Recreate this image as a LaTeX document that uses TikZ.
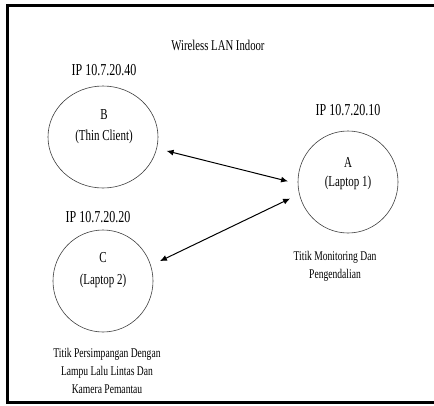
\documentclass[tikz,border=0pt]{standalone}
\usepackage{fontspec}
\setmainfont{Liberation Serif}[FakeStretch=0.72]
\usetikzlibrary{shapes.geometric,arrows.meta}

\begin{document}
\begin{tikzpicture}[x=1pt,y=1pt,
  station/.style={draw=black!75, line width=0.6pt, ellipse, inner sep=0pt},
  ttl/.style={font=\fontsize{14.9}{17}\selectfont, inner sep=0pt},
  ip/.style={font=\fontsize{16.7}{19}\selectfont, inner sep=0pt},
  inlabel/.style={font=\fontsize{15.2}{17}\selectfont, inner sep=0pt},
  note/.style={font=\fontsize{13.3}{18}\selectfont, align=center, inner sep=0pt},
  link/.style={line width=1pt,
    {Latex[length=7pt,width=6pt]}-{Latex[length=7pt,width=6pt]},
    shorten <=10pt, shorten >=10pt}]
  \path[use as bounding box, fill=white] (0,0) rectangle (434,-405);

  % outer frame, open to the right
  \draw[line width=2.2pt] (434,-5.5) -- (7.5,-5.5) -- (7.5,-402.5) -- (434,-402.5);

  \node[ttl] (title) at (218,-45) {Wireless LAN Indoor};

  % stations
  \node[station, minimum width=110pt, minimum height=102pt] (B) at (103,-137) {};
  \node[station, minimum width=100pt, minimum height=102pt] (A) at (348,-182) {};
  \node[station, minimum width=100pt, minimum height=102pt] (C) at (103,-281) {};

  \node[ip] (ipB) at (104,-70) {IP 10.7.20.40};
  \node[ip] (ipA) at (348,-110) {IP 10.7.20.10};
  \node[ip] (ipC) at (98,-217) {IP 10.7.20.20};

  \node[inlabel] (nB) at (104,-115) {B};
  \node[inlabel] (dB) at (104,-137) {(Thin Client)};
  \node[inlabel] (nA) at (348,-162) {A};
  \node[inlabel] (dA) at (348,-183) {(Laptop 1)};
  \node[inlabel] (nC) at (103,-258) {C};
  \node[inlabel] (dC) at (103,-281) {(Laptop 2)};

  \node[note] (rA) at (335,-266) {Titik Monitoring Dan\\Pengendalian};
  \node[note] (rC) at (107,-371) {Titik Persimpangan Dengan\\Lampu Lalu Lintas Dan\\Kamera Pemantau};

  % wireless links
  \draw[link] (B.-12) -- (A.182);
  \draw[link] (C.18) -- (A.194);
\end{tikzpicture}
\end{document}
